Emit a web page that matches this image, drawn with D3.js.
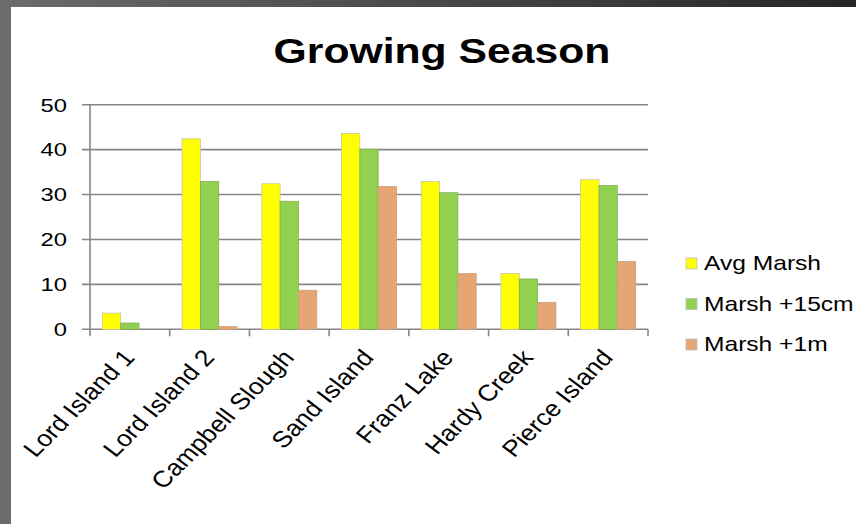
<!DOCTYPE html>
<html>
<head>
<meta charset="utf-8">
<script src="https://cdn.jsdelivr.net/npm/d3@7/dist/d3.min.js"></script>
<style>
  html, body { margin: 0; padding: 0; background: #fff; }
  svg { display: block; }
  text { font-family: "Liberation Sans", Arial, sans-serif; fill: #000; }
</style>
</head>
<body>
<svg id="chart" width="856" height="524"></svg>
<script>
// Growing season by site, three marsh elevation scenarios
const categories = ["Lord Island 1", "Lord Island 2", "Campbell Slough", "Sand Island",
                    "Franz Lake", "Hardy Creek", "Pierce Island"];
const seriesNames = ["Avg Marsh", "Marsh +15cm", "Marsh +1m"];
const avgMarsh   = [3.6, 42.4, 32.4, 43.6, 32.9, 12.4, 33.3];
const marsh15cm  = [1.4, 32.9, 28.5, 40.1, 30.4, 11.2, 32.0];
const marsh1m    = [0.0, 0.6, 8.7, 31.8, 12.4, 6.0, 15.1];
const yTicks = [0, 10, 20, 30, 40, 50];
const seriesColors = ["#FFFF00", "#92D050", "#E5A673"];
const seriesStroke = ["#C9C9A0", "#86B050", "#C9A080"];

const seriesValues = [avgMarsh, marsh15cm, marsh1m];

const svg = d3.select("#chart");
const W = 856, H = 524;

// frame: dark gradient border on top/left, white chart area
const defs = svg.append("defs");
const grad = defs.append("linearGradient").attr("id", "frameGrad")
  .attr("x1", "0").attr("x2", "1").attr("y1", "0").attr("y2", "0");
grad.append("stop").attr("offset", "0").attr("stop-color", "#6c6c6c");
grad.append("stop").attr("offset", "1").attr("stop-color", "#262626");
svg.append("rect").attr("width", W).attr("height", H).attr("fill", "url(#frameGrad)");
svg.append("rect").attr("x", 11).attr("y", 7).attr("width", W - 11).attr("height", H - 7).attr("fill", "#fff");

const plot = { left: 90, right: 648, top: 104.7, bottom: 329.3 };

const x0 = d3.scaleBand().domain(categories)
  .range([plot.left, plot.right]).paddingInner(0.31).paddingOuter(0.155);
const x1 = d3.scaleBand().domain(seriesNames).range([0, x0.bandwidth()]);
const y = d3.scaleLinear().domain([0, 50]).range([plot.bottom, plot.top]);

// title
svg.append("text")
  .attr("transform", `translate(442,63) scale(1.22,1)`)
  .attr("text-anchor", "middle")
  .attr("font-size", 35).attr("font-weight", "bold")
  .text("Growing Season");

// horizontal gridlines + left ticks
const grid = svg.append("g");
grid.selectAll("line").data(yTicks).join("line")
  .attr("x1", plot.left - 8).attr("x2", plot.right)
  .attr("y1", d => y(d)).attr("y2", d => y(d))
  .attr("stroke", "#868686").attr("stroke-width", 1.6);

// y axis line
svg.append("line")
  .attr("x1", plot.left).attr("x2", plot.left)
  .attr("y1", y(50)).attr("y2", y(0))
  .attr("stroke", "#868686").attr("stroke-width", 1.6);

// x axis ticks at category boundaries
const bounds = categories.map(c => x0(c) - x0.step() * x0.paddingOuter());
bounds.push(plot.right);
svg.append("g").selectAll("line").data(bounds).join("line")
  .attr("x1", d => d).attr("x2", d => d)
  .attr("y1", y(0)).attr("y2", y(0) + 7)
  .attr("stroke", "#868686").attr("stroke-width", 1.6);

// y tick labels
svg.append("g").selectAll("text").data(yTicks).join("text")
  .attr("transform", d => `translate(67,${y(d) + 6.8}) scale(1.25,1)`)
  .attr("text-anchor", "end")
  .attr("font-size", 19)
  .text(d => d);

// bars
const groups = svg.append("g").selectAll("g").data(categories).join("g")
  .attr("transform", d => `translate(${x0(d)},0)`);
groups.selectAll("rect")
  .data((c, i) => seriesNames.map((s, j) => ({ s, j, v: seriesValues[j][i] })))
  .join("rect")
  .filter(d => d.v > 0)
  .attr("x", d => x1(d.s))
  .attr("y", d => y(d.v))
  .attr("width", x1.bandwidth())
  .attr("height", d => y(0) - y(d.v))
  .attr("fill", d => seriesColors[d.j])
  .attr("stroke", d => seriesStroke[d.j])
  .attr("stroke-width", 0.8);

// rotated category labels
svg.append("g").selectAll("text").data(categories).join("text")
  .attr("transform", d => `translate(${x0(d) + x0.bandwidth() / 2 + 6},${plot.bottom + 29}) scale(1.15,1) rotate(-49)`)
  .attr("text-anchor", "end")
  .attr("font-size", 23)
  .text(d => d);

// legend
const legend = svg.append("g").selectAll("g").data(seriesNames).join("g")
  .attr("transform", (d, i) => `translate(686,${258 + i * 40.5})`);
legend.append("rect")
  .attr("width", 11).attr("height", 11)
  .attr("fill", (d, i) => seriesColors[i])
  .attr("stroke", "#bdbdbd").attr("stroke-width", 0.8);
legend.append("text")
  .attr("transform", "translate(18,12) scale(1.2,1)")
  .attr("font-size", 20.5)
  .text(d => d);
</script>
</body>
</html>
